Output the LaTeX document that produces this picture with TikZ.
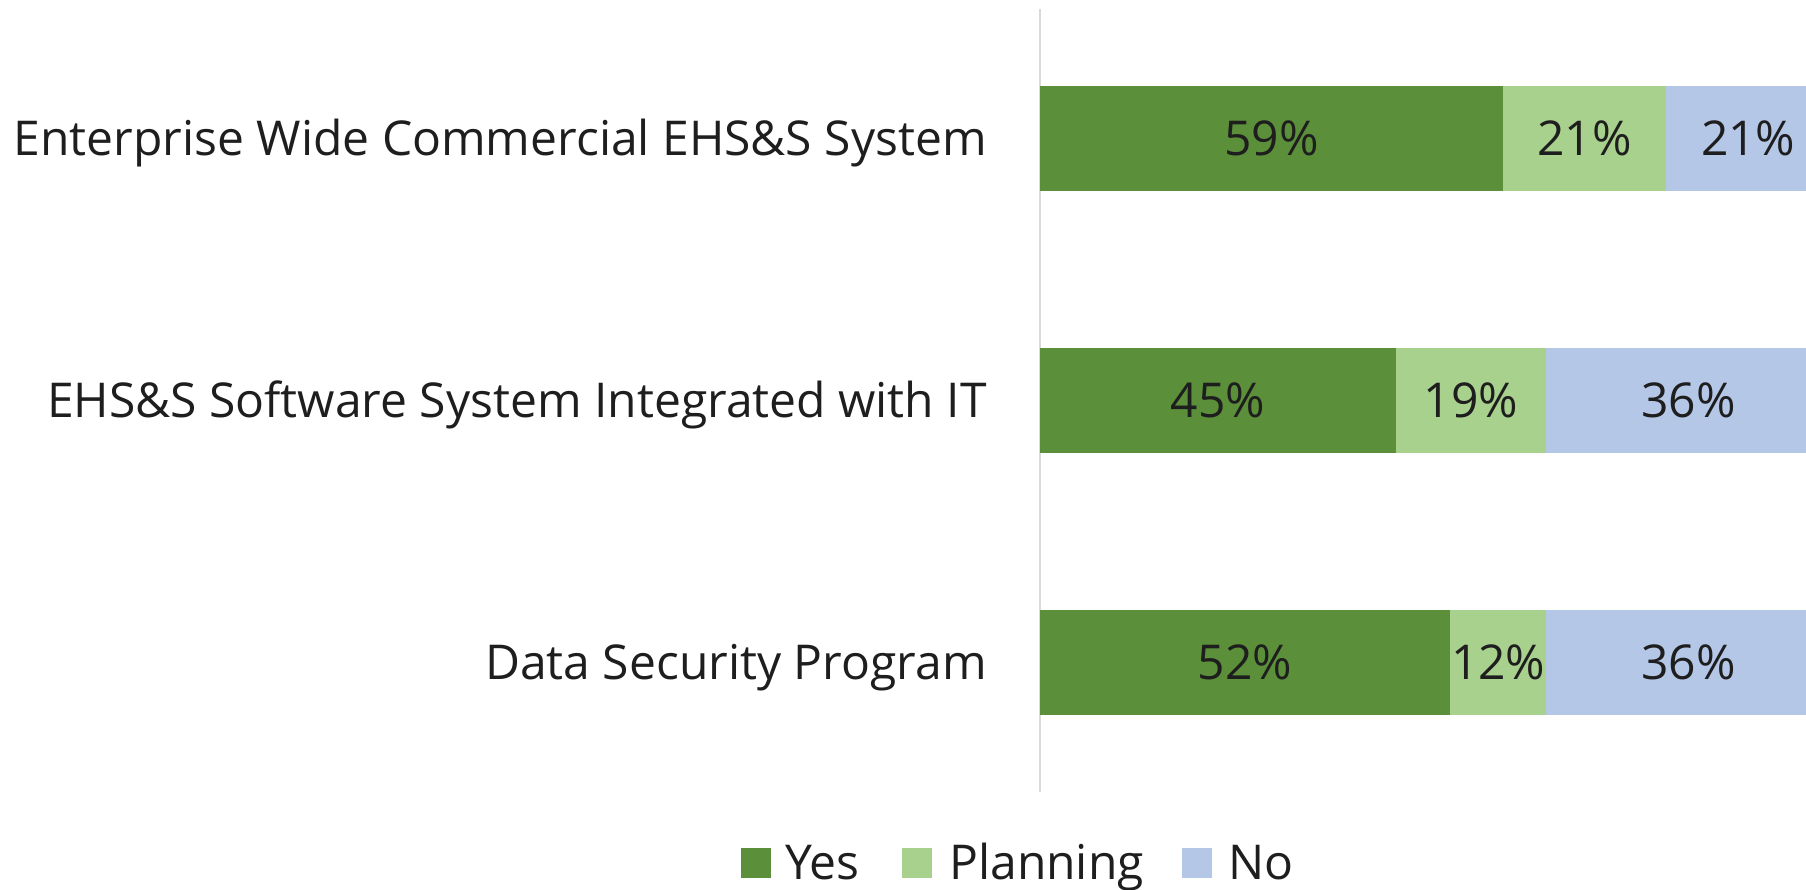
\documentclass[tikz,border=0pt]{standalone}
\usepackage{fontspec}
\setmainfont{Open Sans}
\definecolor{cyes}{HTML}{5B8F3A}
\definecolor{cplan}{HTML}{A9D18E}
\definecolor{cno}{HTML}{B4C7E7}
\definecolor{ctext}{HTML}{1E1E1E}
\definecolor{caxis}{HTML}{D9D9D9}
\begin{document}
\begin{tikzpicture}[x=0.75pt,y=-0.75pt,
  lab/.style={font=\fontsize{36}{43}\selectfont, text=ctext},
  seg/.style={lab, anchor=west, minimum height=78.75pt, inner sep=0pt, outer sep=0pt},
  cat/.style={lab, anchor=base east, inner sep=0pt},
  keybox/.style={minimum size=22.5pt, inner sep=0pt, outer sep=0pt},
  keytext/.style={lab, anchor=base west, inner sep=0pt}]
\useasboundingbox (0,0) rectangle (1806,889);
\clip (0,0) rectangle (1806,889);
% axis
\coordinate (axtop) at (1040,9);
\coordinate (axbot) at (1040,792);
\draw[caxis, line width=1.5pt] (axtop) -- (axbot);
% bar 1
\node[seg, fill=cyes, minimum width={58.6*5.925pt}] (b1y) at (1040,138.5) {59\%};
\node[seg, fill=cplan, minimum width={20.7*5.925pt}] (b1p) at (b1y.east) {21\%};
\node[seg, fill=cno, minimum width={20.7*5.925pt}] (b1n) at (b1p.east) {21\%};
% bar 2
\node[seg, fill=cyes, minimum width={45*5.925pt}] (b2y) at (1040,400.5) {45\%};
\node[seg, fill=cplan, minimum width={19.1*5.925pt}] (b2p) at (b2y.east) {19\%};
\node[seg, fill=cno, minimum width={36*5.925pt}] (b2n) at (b2p.east) {36\%};
% bar 3
\node[seg, fill=cyes, minimum width={51.9*5.925pt}] (b3y) at (1040,662) {52\%};
\node[seg, fill=cplan, minimum width={12.2*5.925pt}] (b3p) at (b3y.east) {12\%};
\node[seg, fill=cno, minimum width={36*5.925pt}] (b3n) at (b3p.east) {36\%};
% category labels
\node[cat] (c1) at (987,155.5) {Enterprise Wide Commercial EHS\&S System};
\node[cat] (c2) at (987,417.5) {EHS\&S Software System Integrated with IT};
\node[cat] (c3) at (987,679) {Data Security Program};
% legend
\node[keybox, fill=cyes] (kyes) at (756,862.5) {};
\node[keytext] (lyes) at (785,879) {Yes};
\node[keybox, fill=cplan] (kplan) at (917,862.5) {};
\node[keytext] (lplan) at (949,879) {Planning};
\node[keybox, fill=cno] (kno) at (1196.5,862.5) {};
\node[keytext] (lno) at (1228,879) {No};
\end{tikzpicture}
\end{document}
